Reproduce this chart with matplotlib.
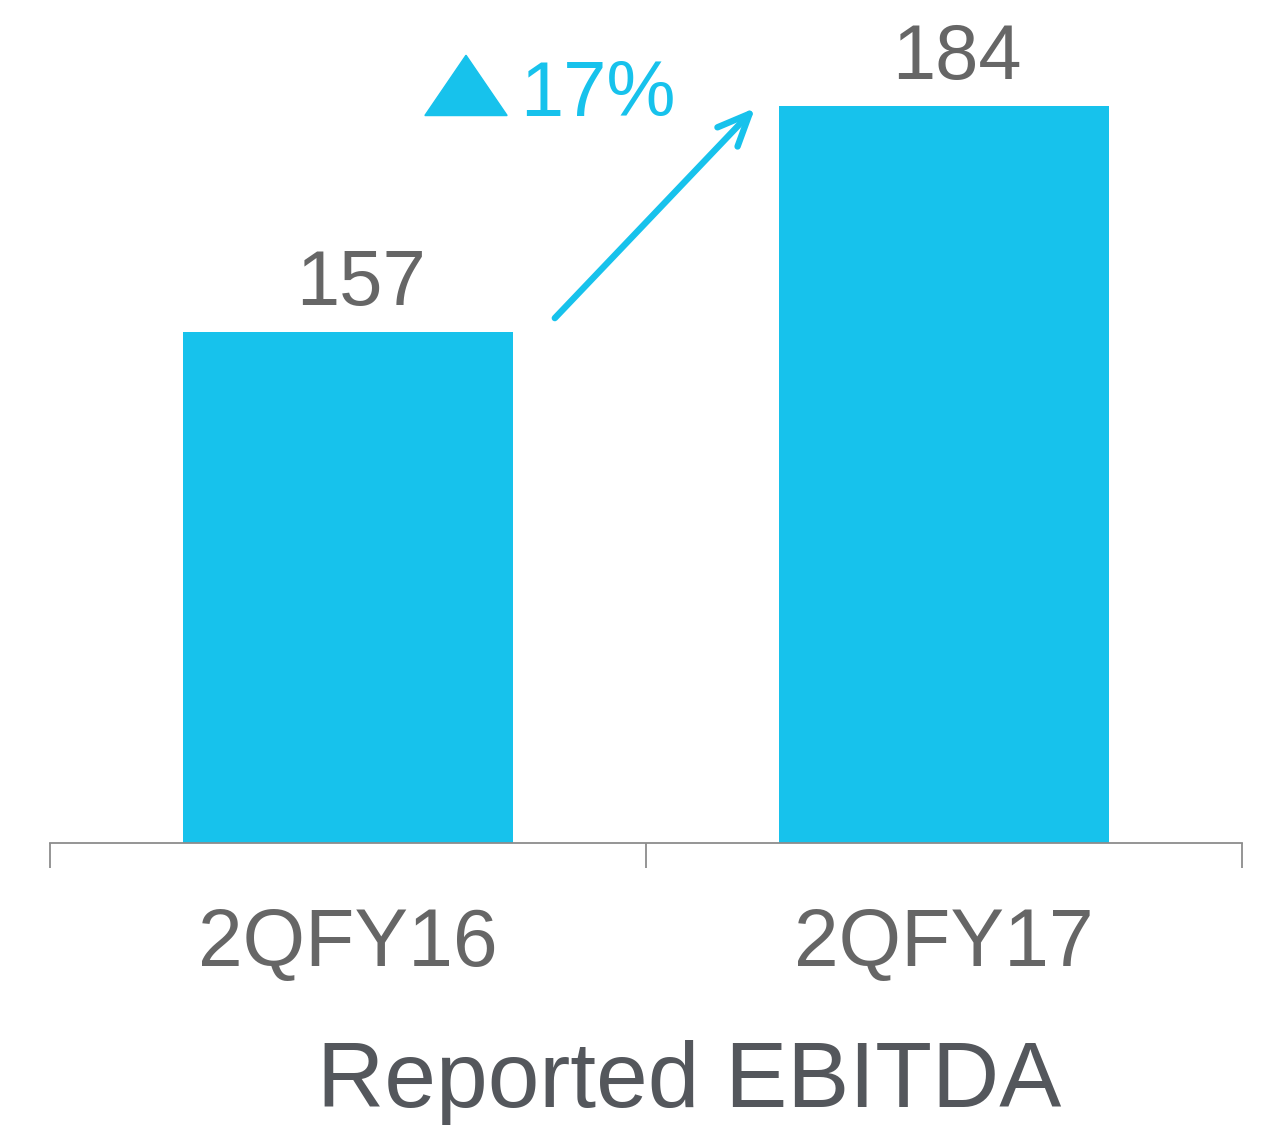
import matplotlib.pyplot as plt
from matplotlib.patches import Polygon

# data
categories = ['2QFY16', '2QFY17']
ebitda = [157, 184]
growth_label = '17%'
chart_title = 'Reported EBITDA'

BLUE = '#17c2ec'
GREY = '#666666'
DARK = '#54575c'

plt.rcParams['font.family'] = ['Liberation Sans', 'DejaVu Sans']

fig = plt.figure(figsize=(12.61, 11.25), dpi=100)
ax = fig.add_axes([50 / 1261, 1 - 843 / 1125, 1192 / 1261, 843 / 1125])

x = range(len(categories))
bars = ax.bar(x, ebitda, width=0.555, color=BLUE, zorder=2)

ax.set_xlim(-0.5, len(categories) - 0.5)
ax.set_ylim(96, 196.7)

# value labels above bars (sit a little right of bar centre, like the original)
for bar, v in zip(bars, ebitda):
    ax.annotate(f'{v}', (bar.get_x() + bar.get_width() / 2, v),
                xytext=(9, 20), textcoords='offset points',
                ha='center', va='baseline', fontsize=56, color=GREY)

# growth arrow between the bars
ax.annotate('', xy=(1 - 0.317, ebitda[1] - 0.2), xytext=(0.347, ebitda[0] + 1.7),
            arrowprops=dict(arrowstyle='->,head_length=1.15,head_width=0.5',
                            color=BLUE, lw=4.6, mutation_scale=20,
                            shrinkA=0, shrinkB=0, capstyle='round'))

# triangle + growth text
tri = Polygon([(0.129, 182.9), (0.267, 182.9), (0.198, 190.1)],
              closed=True, color=BLUE, clip_on=False)
ax.add_patch(tri)
ax.text(0.288, 182.9, growth_label, ha='left', va='baseline',
        fontsize=56, color=BLUE)

# axes styling
for s in ['top', 'right', 'left']:
    ax.spines[s].set_visible(False)
ax.spines['bottom'].set_color('#8c8c8c')
ax.spines['bottom'].set_linewidth(1.3)
ax.set_yticks([])
ax.set_xticks(list(x))
ax.set_xticklabels(categories, fontsize=58, color=GREY)
ax.tick_params(axis='x', which='major', length=0, pad=46)
ax.set_xticks([-0.5, 0.5, 1.5], minor=True)
ax.tick_params(axis='x', which='minor', length=18, width=1.3,
               color='#8c8c8c', direction='out')

fig.text(689 / 1261, 1 - 1107 / 1125, chart_title, ha='center',
         va='baseline', fontsize=67, color=DARK)

fig.savefig('out.png', dpi=100)
